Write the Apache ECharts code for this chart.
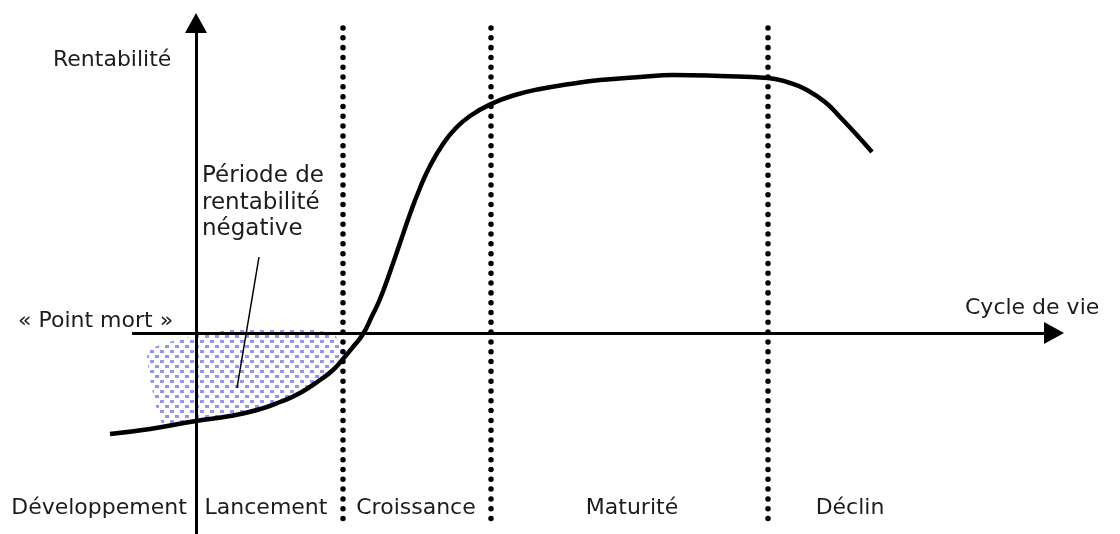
<!DOCTYPE html>
<html>
<head>
<meta charset="utf-8">
<script src="https://cdn.jsdelivr.net/npm/echarts@6/dist/echarts.min.js"></script>
<style>
  html, body { margin: 0; padding: 0; background: #fff; }
  #chart { width: 1120px; height: 534px; }
</style>
</head>
<body>
<div id="chart"></div>
<script>
	// courbe de rentabilite (x = cycle de vie, y = rentabilite)
	var curveX = [-8.6, -4.6, 0, 3.4, 6.1, 8.4, 10.4, 12.4, 13.7, 14.7, 15.7, 16.7, 17.6, 18.4, 19.4, 20.4, 21.4, 22.4, 23.4, 24.7, 25.9, 27.4, 29.5, 31.9, 34.4, 37.4, 40.4, 44.4, 47.7, 52.4, 57.2, 59.4, 61.1, 62.9, 64.4, 66.0, 67.6];
	var curveY = [-10.1, -9.6, -8.8, -8.3, -7.7, -6.9, -6.0, -4.7, -3.7, -2.6, -1.4, -0.1, 1.7, 3.4, 6.1, 9.0, 11.9, 14.5, 16.7, 18.9, 20.4, 21.7, 22.9, 23.8, 24.4, 24.9, 25.3, 25.6, 25.8, 25.7, 25.5, 25.0, 24.3, 23.1, 21.6, 19.9, 18.1];

	// zone de rentabilite negative
	var shadeX = [-4.9, -3.1, -1.3, 0.4, 3.4, 7.1, 11.1, 13.7, 14.6, 14.7, 13.7, 12.4, 10.4, 8.4, 6.1, 3.4, 0, -3.3];
	var shadeY = [-2.0, -1.0, -0.6, -0.1, 0.3, 0.5, 0.4, -0.1, -1.2, -2.6, -3.7, -4.7, -6.0, -6.9, -7.7, -8.3, -8.8, -9.2];

	// limites des phases
	var phaseBounds = [14.7, 29.5, 57.2];
	var phaseLabels = ['Développement', 'Lancement', 'Croissance', 'Maturité', 'Déclin'];
	var phaseCenters = [-9.7, 7.0, 22.0, 43.6, 65.4];

	var chart = echarts.init(document.getElementById('chart'));

	// motif de petits carres bleus
	var tile = document.createElement('canvas');
	tile.width = 10; tile.height = 10;
	var ctx = tile.getContext('2d');
	ctx.fillStyle = '#9494f2';
	ctx.fillRect(0, 0, 4, 3);
	ctx.fillRect(5, 5, 4, 3);

	var font = '22px "DejaVu Sans"';
	var txt = '#1c1c1c';

	var graphics = [
		{ type: 'text', x: 53, y: 60, style: { text: 'Rentabilité', font: font, fill: txt, textVerticalAlign: 'middle' } },
		{ type: 'text', x: 965, y: 308, style: { text: 'Cycle de vie', font: font, fill: txt, textVerticalAlign: 'middle' } },
		{ type: 'text', x: 18, y: 321, style: { text: '« Point mort »', font: font, fill: txt, textVerticalAlign: 'middle' } },
		{ type: 'text', x: 202, y: 176, style: { text: 'Période de', font: '23px "DejaVu Sans"', fill: txt, textVerticalAlign: 'middle' } },
		{ type: 'text', x: 202, y: 203, style: { text: 'rentabilité', font: '23px "DejaVu Sans"', fill: txt, textVerticalAlign: 'middle' } },
		{ type: 'text', x: 202, y: 229, style: { text: 'négative', font: '23px "DejaVu Sans"', fill: txt, textVerticalAlign: 'middle' } }
	];

	var markData = phaseBounds.map(function (b) {
		return [{ coord: [b, 30.5] }, { coord: [b, -18.7] }];
	});
	// trait de la legende
	markData.push([
		{ coord: [6.3, 7.6], lineStyle: { type: 'solid', width: 1.5, cap: 'butt' } },
		{ coord: [4.1, -5.5] }
	]);

	option = {
		animation: false,
		grid: { left: 80, right: 66, top: 23, bottom: 0 },
		xAxis: {
			type: 'value', min: -11.6, max: 85.8,
			axisLine: { show: false },
			axisTick: { show: false }, axisLabel: { show: false }, splitLine: { show: false }
		},
		yAxis: {
			type: 'value', min: -20.1, max: 31.0,
			axisLine: { onZero: true, symbol: ['none', 'triangle'], symbolSize: [22, 20], lineStyle: { color: '#000', width: 3 } },
			axisTick: { show: false }, axisLabel: { show: false }, splitLine: { show: false }
		},
		graphic: graphics,
		series: [
			{
				type: 'custom',
				z: -1,
				silent: true,
				data: [[0, 0]],
				renderItem: function (params, api) {
					var pts = shadeX.map(function (x, i) { return api.coord([x, shadeY[i]]); });
					return {
						type: 'polygon',
						shape: { points: pts, smooth: 0.2 },
						style: { fill: { image: tile, repeat: 'repeat' }, stroke: null }
					};
				}
			},
			{
				type: 'line',
				smooth: 0.5,
				showSymbol: false,
				data: curveX.map(function (x, i) { return [x, curveY[i]]; }),
				lineStyle: { color: '#000', width: 4.5 },
				markLine: {
					silent: true,
					symbol: ['none', 'none'],
					label: { show: false },
					lineStyle: { color: '#000', type: [0.01, 9.8], width: 5.5, cap: 'round' },
					data: markData
				}
			},
			{
				// axe horizontal (cycle de vie)
				type: 'line',
				silent: true,
				data: [],
				markLine: {
					silent: true,
					symbol: ['none', 'triangle'],
					symbolSize: [22, 20],
					label: { show: false },
					lineStyle: { color: '#000', type: 'solid', width: 3 },
					data: [[{ coord: [-6.4, 0] }, { coord: [85.8, 0] }]]
				}
			},
			{
				type: 'scatter',
				silent: true,
				symbolSize: 0,
				data: phaseCenters.map(function (x, i) { return [x, -17.5]; }),
				label: {
					show: true,
					position: 'inside',
					formatter: function (p) { return phaseLabels[p.dataIndex]; },
					fontFamily: 'DejaVu Sans', fontSize: 22, color: txt,
					textBorderWidth: 0, opacity: 1
				}
			}
		]
	};

	chart.setOption(option);
</script>
</body>
</html>
